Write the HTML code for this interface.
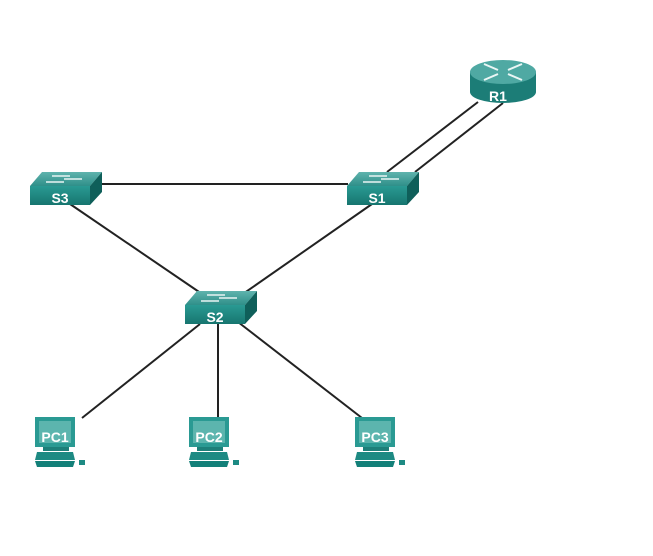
<!DOCTYPE html>
<html><head><style>body{margin:0;background:#fff}svg{display:block}</style></head><body>
<svg width="653" height="556" viewBox="0 0 653 556" xmlns="http://www.w3.org/2000/svg" font-family="Liberation Sans, sans-serif" font-weight="bold">
<defs>
<linearGradient id="top" x1="0" y1="0" x2="0" y2="1"><stop offset="0" stop-color="#5fb3ad"/><stop offset="1" stop-color="#2f8f89"/></linearGradient>
<linearGradient id="front" x1="0" y1="0" x2="0" y2="1"><stop offset="0" stop-color="#2a9a93"/><stop offset="1" stop-color="#17756f"/></linearGradient>
<g id="sw">
<polygon points="0,14 12,0 72,0 60,14" fill="url(#top)"/>
<polygon points="60,14 72,0 72,20 60,33" fill="#0f5f5a"/>
<rect x="0" y="14" width="60" height="19" fill="url(#front)"/>
<g stroke="#e8f4f3" stroke-width="1.5"><line x1="22" y1="4" x2="40" y2="4"/><line x1="34" y1="7" x2="52" y2="7"/><line x1="16" y1="10" x2="34" y2="10"/></g>
</g>
<g id="pc">
<rect x="0" y="0" width="40" height="30" fill="#2a9a93"/>
<rect x="4" y="4" width="32" height="22" fill="#5cb5ae"/>
<rect x="8" y="30" width="26" height="4" fill="#1d7f79"/>
<polygon points="2,35 38,35 40,43 0,43" fill="#1d8a83"/>
<polygon points="0,44 40,44 38,50 2,50" fill="#138079"/>
<rect x="44" y="43" width="6" height="5" fill="#1d8a83"/>
</g>
</defs>
<g stroke="#222" stroke-width="2" fill="none">
<line x1="93" y1="184" x2="348" y2="184"/>
<line x1="70" y1="204" x2="205" y2="296"/>
<line x1="372" y1="204" x2="240" y2="296"/>
<line x1="478" y1="102" x2="387" y2="172"/>
<line x1="503" y1="103" x2="415" y2="172"/>
<line x1="200" y1="324" x2="82" y2="418"/>
<line x1="218" y1="324" x2="218" y2="418"/>
<line x1="238" y1="322" x2="362" y2="418"/>
</g>
<use href="#sw" x="30" y="172"/>
<use href="#sw" x="347" y="172"/>
<use href="#sw" x="185" y="291"/>
<g fill="#fff" font-size="14" text-anchor="middle">
<text x="60" y="203">S3</text><text x="377" y="203">S1</text><text x="215" y="322">S2</text>
</g>
<!-- router -->
<path d="M470,72 v20 a33,11 0 0 0 66,0 v-20 z" fill="#1c7d77"/>
<ellipse cx="503" cy="72" rx="33" ry="12" fill="#4fa9a3"/>
<g stroke="#eaf6f5" stroke-width="2"><line x1="484" y1="64" x2="498" y2="70"/><line x1="522" y1="64" x2="508" y2="70"/><line x1="484" y1="80" x2="498" y2="74"/><line x1="522" y1="80" x2="508" y2="74"/></g>
<text x="498" y="101" fill="#fff" font-size="14" text-anchor="middle">R1</text>
<use href="#pc" x="35" y="417"/>
<use href="#pc" x="189" y="417"/>
<use href="#pc" x="355" y="417"/>
<g fill="#fff" font-size="14" text-anchor="middle">
<text x="55" y="442">PC1</text><text x="209" y="442">PC2</text><text x="375" y="442">PC3</text>
</g>
</svg>
</body></html>
